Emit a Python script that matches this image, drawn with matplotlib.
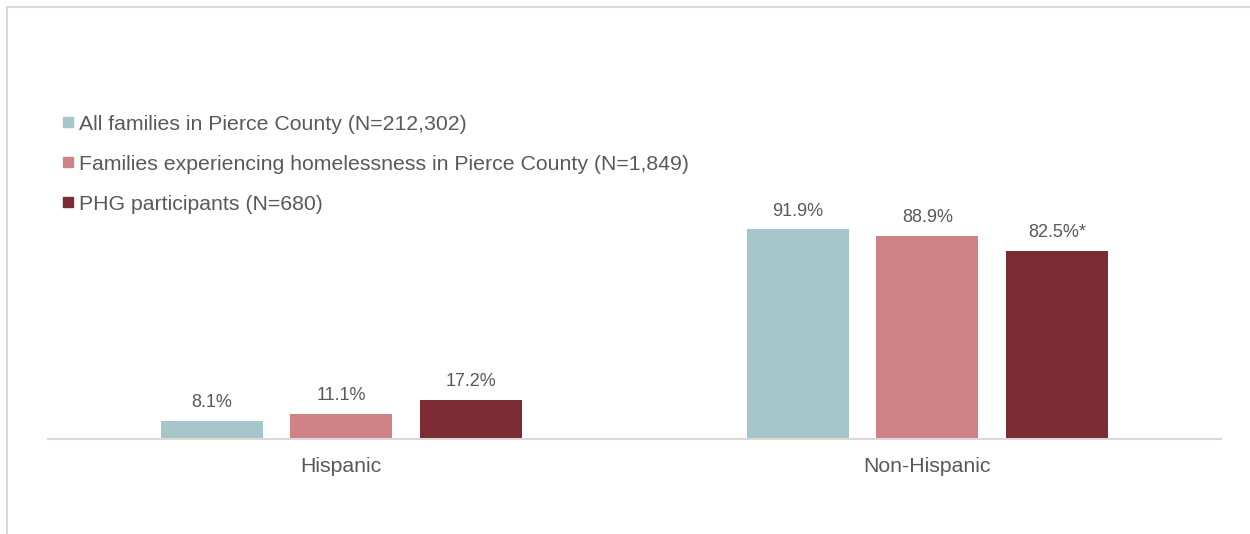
import numpy as np
import matplotlib.pyplot as plt
from matplotlib.patches import Rectangle
from matplotlib.lines import Line2D

plt.rcParams['font.family'] = ['Liberation Sans', 'DejaVu Sans']

TEXT_COLOR = '#595959'
GRID_COLOR = '#D9D9D9'

categories = ['Hispanic', 'Non-Hispanic']
series_names = ['All families in Pierce County (N=212,302)',
                'Families experiencing homelessness in Pierce County (N=1,849)',
                'PHG participants (N=680)']
series_colors = ['#A5C6CA', '#D08387', '#7B2C33']

# percent of families in each group
all_families = [8.1, 91.9]
homeless_families = [11.1, 88.9]
phg_participants = [17.2, 82.5]
# significance markers added after the value labels
phg_notes = ['', '*']

values = [all_families, homeless_families, phg_participants]
notes = [['', ''], ['', ''], phg_notes]

fig = plt.figure(figsize=(12.5, 5.34), dpi=100)
ax = fig.add_axes([0.0384, 0.177, 0.938, 0.428])

x = np.arange(len(categories))
width = 0.174
step = 0.221

for i, (vals, color) in enumerate(zip(values, series_colors)):
    pos = x + (i - 1) * step
    bars = ax.bar(pos, vals, width, color=color, zorder=2)
    for b, v, n in zip(bars, vals, notes[i]):
        ax.annotate('%.1f%%%s' % (v, n),
                    (b.get_x() + b.get_width() / 2, b.get_height()),
                    xytext=(0, 10), textcoords='offset points',
                    ha='center', va='baseline', fontsize=13, color=TEXT_COLOR)

ax.set_xlim(-0.5, 1.5)
ax.set_ylim(0, 100)
ax.set_xticks(x)
ax.set_xticklabels(categories, fontsize=15.3, color=TEXT_COLOR)
ax.tick_params(axis='x', length=0, pad=12.5)
ax.set_yticks([])
for side in ['left', 'right', 'top']:
    ax.spines[side].set_visible(False)
ax.spines['bottom'].set_color(GRID_COLOR)
ax.spines['bottom'].set_linewidth(1.5)

# legend drawn by hand as small squares with labels
W, H = 1250.0, 534.0
for i, (name, color) in enumerate(zip(series_names, series_colors)):
    yc = 122 + 40 * i
    fig.patches.append(Rectangle((63 / W, 1 - (yc + 5) / H), 10 / W, 10 / H,
                                 transform=fig.transFigure, color=color))
    fig.text(79 / W, 1 - yc / H, name, fontsize=15.3, color=TEXT_COLOR,
             ha='left', va='center_baseline')

# thin frame around the chart area
fig.lines.append(Line2D([6.5 / W, 6.5 / W], [0, 1 - 6.5 / H], transform=fig.transFigure,
                        color=GRID_COLOR, lw=1.5))
fig.lines.append(Line2D([6.5 / W, 1], [1 - 6.5 / H, 1 - 6.5 / H], transform=fig.transFigure,
                        color=GRID_COLOR, lw=1.5))

fig.savefig('out.png', dpi=100)
